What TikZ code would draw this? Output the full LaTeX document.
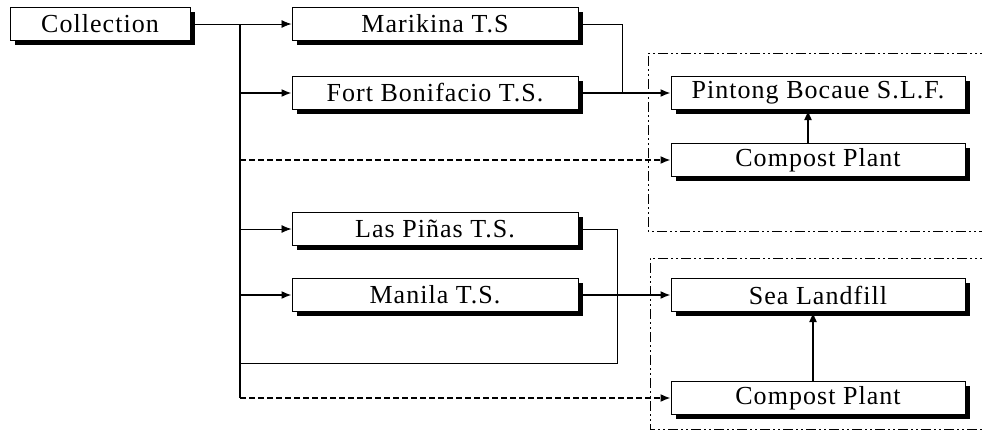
\documentclass[tikz,border=0pt]{standalone}
\usepackage{fontspec}
\setmainfont{Liberation Serif}[LetterSpace=4]
\usetikzlibrary{arrows.meta,shadows}
\begin{document}
\begin{tikzpicture}[x=1pt,y=-1pt,
  blk/.style={draw=black,line width=1pt,fill=white,minimum height=33pt,
    inner sep=0pt,font=\fontsize{26}{29}\selectfont,
    general shadow={fill=black,shadow xshift=4.5pt,shadow yshift=-4.5pt}},
  ts/.style={blk,minimum width=286pt},
  dest/.style={blk,minimum width=294pt},
  tip/.style={-{Latex[length=10pt,width=8pt]}},
  main/.style={line width=1.6pt},
  thinl/.style={line width=0.8pt},
  dsh/.style={main,dash pattern=on 6pt off 3pt},
  zone/.style={line width=1pt,dash pattern=on 10pt off 3pt on 2pt off 3pt on 2pt off 3pt}]
\useasboundingbox (0,0) rectangle (982,432);

% grouped destinations
\draw[zone] (990,53) -- (648,53) -- (648,231) -- (990,231);
\draw[zone] (990,258) -- (650,258) -- (650,429) -- (990,429);

% boxes
\node[blk,minimum width=180pt] (col) at (100,24) {Collection};
\node[ts] (mar) at (435,24) {Marikina T.S};
\node[ts] (fort) at (435,93) {Fort Bonifacio T.S.};
\node[ts] (las) at (435,229) {Las Piñas T.S.};
\node[ts] (man) at (435,295) {Manila T.S.};
\node[dest] (pin) at (818,93) {Pintong Bocaue S.L.F.};
\node[dest] (cp1) at (818,160) {Compost Plant};
\node[dest] (sea) at (818,295) {Sea Landfill};
\node[dest] (cp2) at (818,398) {Compost Plant};

% trunk from the collection point
\coordinate (ttop) at (240,24);
\coordinate (tbot) at (240,398);
\coordinate (tloop) at (240,363);
\coordinate (mj) at (622,24);
\coordinate (lj) at (617,229);

\draw[thinl,tip] (col.east) -- (mar.west);
\draw[main] (ttop) -- (tbot);
\draw[main,tip] (ttop |- fort.west) -- (fort.west);
\draw[dsh,tip] (ttop |- cp1.west) -- (cp1.west);
\draw[thinl,tip] (ttop |- las.west) -- (las.west);
\draw[main,tip] (ttop |- man.west) -- (man.west);
\draw[dsh,tip] (tbot) -- (cp2.west);

% transfer station outputs
\draw[thinl] (mar.east) -- (mj) -- (mj |- fort.east);
\draw[main,tip] (fort.east) -- (pin.west);
\draw[thinl] (las.east) -- (lj) -- (lj |- tloop) -- (tloop);
\draw[main,tip] (man.east) -- (sea.west);

% compost residue to landfill
\draw[main,tip] ([xshift=-10pt]cp1.north) -- ([xshift=-10pt]pin.south);
\draw[main,tip] ([xshift=-5pt]cp2.north) -- ([xshift=-5pt]sea.south);
\end{tikzpicture}
\end{document}
